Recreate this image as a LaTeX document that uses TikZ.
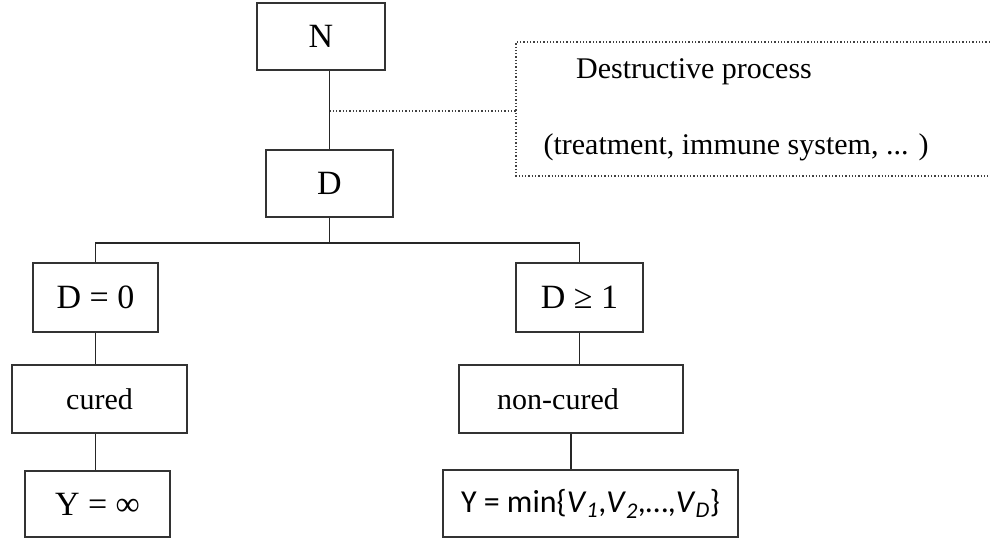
\documentclass[tikz,border=0pt]{standalone}
\usepackage{fontspec}
\setmainfont{Liberation Serif}
\newfontfamily\calib{Carlito}
\begin{document}
\begin{tikzpicture}[x=1pt,y=-1pt,
  box/.style={draw=black!80,line width=1.6pt,rectangle,inner sep=0pt,align=center},
  conn/.style={draw=black!85,line width=1.1pt},
  dots/.style={draw=black!75,line width=1.3pt,dotted},
  big/.style={font=\fontsize{34}{38}\selectfont},
  mid/.style={font=\fontsize{30}{34}\selectfont}]
\useasboundingbox (0,0) rectangle (990,539);
\node[box,big,minimum width=128pt,minimum height=67pt] (N) at (321,36.5) {N};
\node[box,big,minimum width=127pt,minimum height=67pt] (D) at (329.5,183.5) {D};
\node[box,big,minimum width=125pt,minimum height=69pt] (D0) at (95.5,297.5) {D = 0};
\node[box,big,minimum width=127pt,minimum height=69pt] (D1) at (579.5,297.5) {D ≥ 1};
\node[box,mid,minimum width=175pt,minimum height=68pt] (cured) at (99.5,399) {cured};
\node[box,mid,minimum width=224pt,minimum height=68pt] (noncured) at (571,399) {non-cured\hspace*{26pt}};
\node[box,big,minimum width=145pt,minimum height=66pt] (Yinf) at (97.5,504) {Y = ∞};
\node[box,minimum width=295pt,minimum height=67pt,font=\calib\fontsize{32}{35}\selectfont] (Ymin) at (590.5,503.5)
  {Y = min\{\textit{V}\textsubscript{\textit{1}},\textit{V}\textsubscript{\textit{2}},…,\textit{V}\textsubscript{\textit{D}}\}};
% dotted annotation box
\coordinate (bt) at (990,42);
\coordinate (btl) at (516,42);
\coordinate (bbl) at (516,176);
\coordinate (bb) at (990,176);
\coordinate (bl) at (516,111);
\draw[dots] (bt) -- (btl) -- (bbl) -- (bb);
\node[mid,anchor=center] (t1) at (694,72) {Destructive process};
\node[mid,anchor=center] (t2) at (736,147) {(treatment, immune system, ... )};
% connectors
\draw[conn] (D.north) -- (D.north |- N.south);
\coordinate (tap) at (329.5,111);
\draw[dots] (tap) -- (bl);
\coordinate (bar) at (329.5,243);
\draw[conn] (D.south) -- (bar);
\draw[conn] (D0.north) -- (D0.north |- bar) -- (D1.north |- bar) -- (D1.north);
\draw[conn] (D0.south) -- (D0.south |- cured.north);
\draw[conn] (cured.south -| D0.south) -- (D0.south |- Yinf.north);
\draw[conn] (D1.south) -- (D1.south |- noncured.north);
\draw[conn] (noncured.south) -- (noncured.south |- Ymin.north);
\end{tikzpicture}
\end{document}
